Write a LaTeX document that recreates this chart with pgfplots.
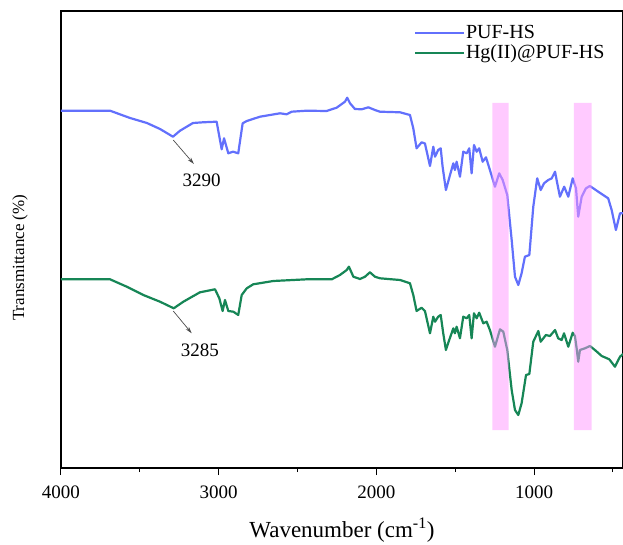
\documentclass[border=0pt]{standalone}
\usepackage{fontspec}
\setmainfont{Liberation Serif}
\usepackage{pgfplots}
\pgfplotsset{compat=1.18}
\usetikzlibrary{arrows.meta}
\definecolor{blueline}{RGB}{98,112,252}
\definecolor{greenline}{RGB}{22,134,86}
\definecolor{bandpink}{RGB}{255,150,255}

\pgfplotstableread{
x y
4000 357.3
3689 357.3
3562 350
3455 345
3372 339
3290 331.3
3245 337.3
3163 345
3100 345.7
3013 346.3
2981 318.7
2966 329.7
2939 314.7
2909 316.3
2876 314.7
2848 344.7
2822 347
2738 351.3
2611 354.7
2569 353.7
2537 356.3
2442 357.3
2315 357
2252 360.3
2199 366.3
2185 370.3
2167 364.7
2136 359
2093 358.7
2051 360.7
2009 358
1977 356.3
1850 355.7
1787 353
1766 339.7
1745 319.7
1713 325.7
1692 324.5
1660 302
1639 321.3
1628 311.3
1608 318
1592 319.7
1580 301.3
1559 278
1533 293
1512 304.7
1502 298
1491 306.3
1470 291.3
1449 316.3
1427 314.7
1411 319.7
1396 294.7
1381 323
1364 316.3
1348 319.7
1326 306.3
1305 310.7
1280 298
1248 281.3
1221 294.7
1199 288
1170 273
1142 228
1121 191.3
1100 183
1079 194.7
1058 211.3
1030 213
1005 261.3
980 289.7
958 278
937 284.7
910 288
888 289.7
867 296.3
853 284.7
836 271.3
809 281.3
783 271.3
755 289.7
734 279.7
720 251.3
698 271.3
671 279.7
646 282
593 276.3
530 269.7
508 258
481 238
455 254.7
436 254.7
}\puf

\pgfplotstableread{
x y
4000 188.7
3689 188.7
3583 181.3
3478 173
3372 166.3
3285 159.7
3224 166.3
3119 175.7
3023 178.7
2996 169.7
2975 157
2960 168
2939 157
2907 156.3
2876 153
2854 173
2822 179.7
2781 183.7
2654 187
2442 188.7
2283 188.7
2231 193
2188 198
2174 201.3
2146 191.3
2104 189
2072 191.3
2041 195.7
2009 191.3
1977 189.7
1850 188
1787 184.7
1766 173
1745 157
1713 160.3
1692 157
1660 134.7
1639 151.3
1628 146.3
1608 151.3
1592 153
1576 134.7
1559 118
1538 128
1512 139.7
1502 134.7
1491 141.3
1470 129.7
1449 151.3
1427 149.7
1411 153
1396 129.7
1381 154.7
1364 149.7
1348 155.3
1322 144.7
1301 146.3
1280 138
1248 121.3
1216 138.7
1195 136.3
1170 118
1142 78
1121 58
1100 53
1079 64.7
1051 93
1030 94
1005 126.3
973 137
958 126.3
925 133
899 132
867 138
847 129.7
825 128
810 134.7
783 121.3
755 135.3
741 132
730 119.7
720 106.3
709 118
677 119.7
646 122
614 118
571 112
523 108.7
487 101.3
455 111.3
436 114
}\hg

\begin{document}
\begin{tikzpicture}
\begin{axis}[
  scale only axis,
  width=562pt, height=457pt,
  x dir=reverse,
  xmin=436, xmax=4000,
  ymin=0, ymax=457,
  xtick={1000,2000,3000,4000},
  minor xtick={500,1500,2500,3500},
  ytick=\empty,
  xtick pos=bottom,
  tick align=outside,
  major tick length=7pt,
  minor tick length=4pt,
  every tick/.style={black, line width=1pt},
  axis line style={line width=1.2pt},
  /pgf/number format/assume math mode=true,
  /pgf/number format/1000 sep={},
  ticklabel style={font=\fontsize{19}{22}\selectfont},
  xticklabel style={yshift=-7pt},
  xlabel={Wavenumber (cm\textsuperscript{-1})},
  xlabel style={font=\fontsize{23}{27}\selectfont, at={(axis description cs:0.5,-0.136)}, anchor=center},
  ylabel={Transmittance (\%)},
  ylabel style={font=\fontsize{17}{20}\selectfont, at={(axis description cs:-0.073,0.46)}, anchor=center},
  legend style={draw=none, fill=none, at={(axis description cs:0.626,0.976)}, anchor=north west,
    font=\fontsize{20}{22}\selectfont, row sep=0pt, inner sep=1pt,
    nodes={text height=14pt, text depth=4pt, inner sep=1pt}},
  legend cell align=left,
  legend image code/.code={\draw[#1, line width=2pt] (0pt,0pt) -- (49pt,0pt);},
]
\addplot[blueline, line width=2.2pt, line join=round] table[x=x,y=y]{\puf};
\addlegendentry{PUF-HS}
\addplot[greenline, line width=2.2pt, line join=round] table[x=x,y=y]{\hg};
\addlegendentry{Hg(II)@PUF-HS}
\addplot[draw=none, fill=bandpink, fill opacity=0.5, forget plot] coordinates {(1265,38) (1265,365) (1161,365) (1161,38) (1265,38)};
\addplot[draw=none, fill=bandpink, fill opacity=0.5, forget plot] coordinates {(747,38) (747,365) (635,365) (635,38) (747,38)};
\draw[gray!60!black, line width=0.7pt, -{Stealth[length=7pt,width=4pt]}] (axis cs:3288,328) -- (axis cs:3157,304);
\node[font=\fontsize{19}{22}\selectfont] at (axis cs:3108,288) {3290};
\draw[gray!60!black, line width=0.7pt, -{Stealth[length=7pt,width=4pt]}] (axis cs:3288,157) -- (axis cs:3171,134.7);
\node[font=\fontsize{19}{22}\selectfont] at (axis cs:3119,118) {3285};
\end{axis}
\pgfresetboundingbox
\path[use as bounding box] (-61pt,-76pt) rectangle (562pt,468pt);
\end{tikzpicture}
\end{document}
